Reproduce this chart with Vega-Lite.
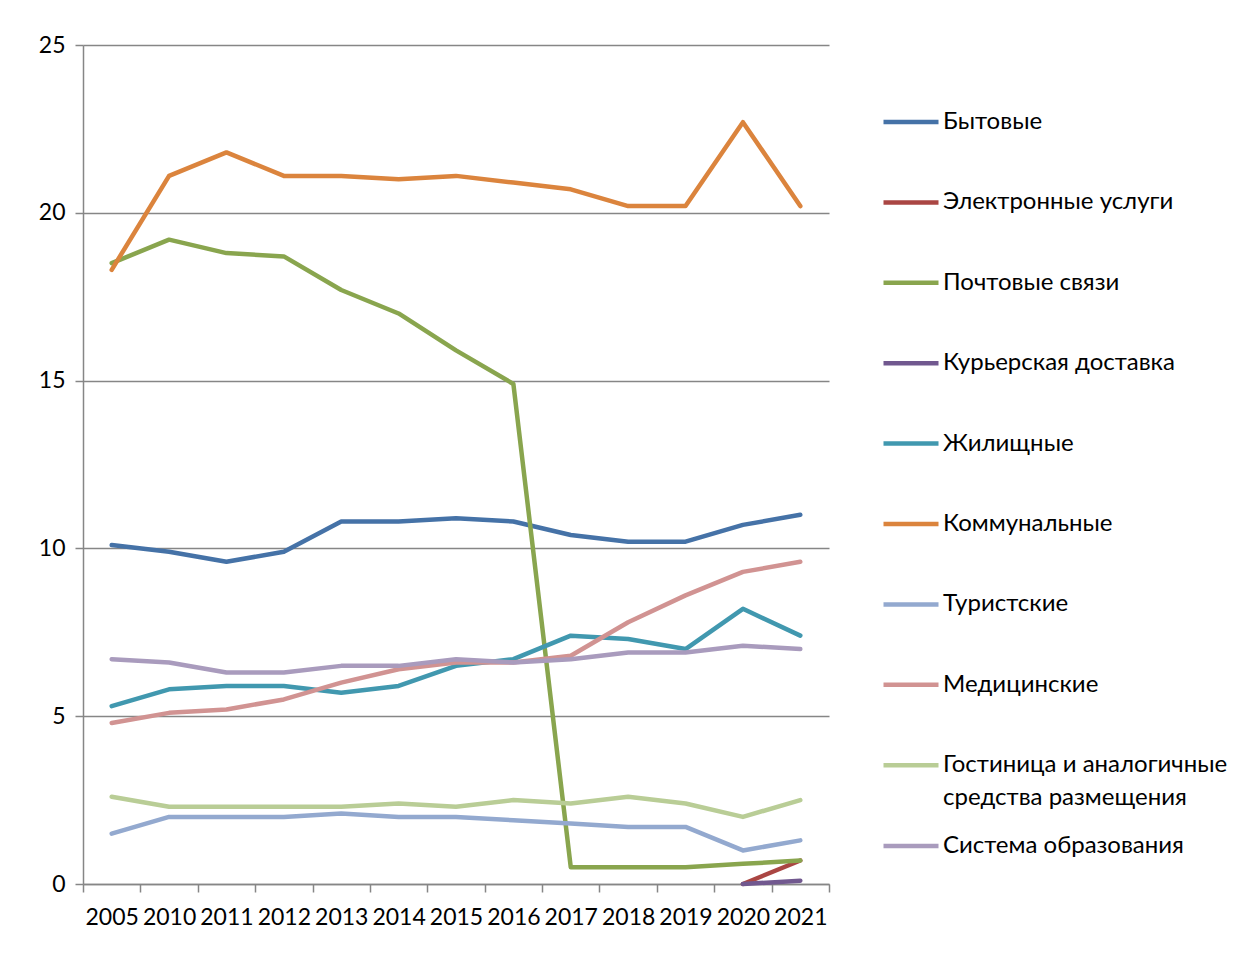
{
  "$schema": "https://vega.github.io/schema/vega-lite/v6.json",
  "autosize": {"type": "none"},
  "padding": {"left": 83, "top": 45, "right": 420, "bottom": 96},
  "width": 746,
  "height": 839,
  "background": "white",
  "config": {
    "view": {"stroke": null},
    "font": "Lato",
    "style": {"guide-label": {"lineHeight": 33}}
  },
  "data": {
    "values": [
      {"year": "2005", "series": "Бытовые", "value": 10.1},
      {"year": "2010", "series": "Бытовые", "value": 9.9},
      {"year": "2011", "series": "Бытовые", "value": 9.6},
      {"year": "2012", "series": "Бытовые", "value": 9.9},
      {"year": "2013", "series": "Бытовые", "value": 10.8},
      {"year": "2014", "series": "Бытовые", "value": 10.8},
      {"year": "2015", "series": "Бытовые", "value": 10.9},
      {"year": "2016", "series": "Бытовые", "value": 10.8},
      {"year": "2017", "series": "Бытовые", "value": 10.4},
      {"year": "2018", "series": "Бытовые", "value": 10.2},
      {"year": "2019", "series": "Бытовые", "value": 10.2},
      {"year": "2020", "series": "Бытовые", "value": 10.7},
      {"year": "2021", "series": "Бытовые", "value": 11.0},

      {"year": "2020", "series": "Электронные услуги", "value": 0.0},
      {"year": "2021", "series": "Электронные услуги", "value": 0.7},

      {"year": "2005", "series": "Почтовые связи", "value": 18.5},
      {"year": "2010", "series": "Почтовые связи", "value": 19.2},
      {"year": "2011", "series": "Почтовые связи", "value": 18.8},
      {"year": "2012", "series": "Почтовые связи", "value": 18.7},
      {"year": "2013", "series": "Почтовые связи", "value": 17.7},
      {"year": "2014", "series": "Почтовые связи", "value": 17.0},
      {"year": "2015", "series": "Почтовые связи", "value": 15.9},
      {"year": "2016", "series": "Почтовые связи", "value": 14.9},
      {"year": "2017", "series": "Почтовые связи", "value": 0.5},
      {"year": "2018", "series": "Почтовые связи", "value": 0.5},
      {"year": "2019", "series": "Почтовые связи", "value": 0.5},
      {"year": "2020", "series": "Почтовые связи", "value": 0.6},
      {"year": "2021", "series": "Почтовые связи", "value": 0.7},

      {"year": "2020", "series": "Курьерская доставка", "value": 0.0},
      {"year": "2021", "series": "Курьерская доставка", "value": 0.1},

      {"year": "2005", "series": "Жилищные", "value": 5.3},
      {"year": "2010", "series": "Жилищные", "value": 5.8},
      {"year": "2011", "series": "Жилищные", "value": 5.9},
      {"year": "2012", "series": "Жилищные", "value": 5.9},
      {"year": "2013", "series": "Жилищные", "value": 5.7},
      {"year": "2014", "series": "Жилищные", "value": 5.9},
      {"year": "2015", "series": "Жилищные", "value": 6.5},
      {"year": "2016", "series": "Жилищные", "value": 6.7},
      {"year": "2017", "series": "Жилищные", "value": 7.4},
      {"year": "2018", "series": "Жилищные", "value": 7.3},
      {"year": "2019", "series": "Жилищные", "value": 7.0},
      {"year": "2020", "series": "Жилищные", "value": 8.2},
      {"year": "2021", "series": "Жилищные", "value": 7.4},

      {"year": "2005", "series": "Коммунальные", "value": 18.3},
      {"year": "2010", "series": "Коммунальные", "value": 21.1},
      {"year": "2011", "series": "Коммунальные", "value": 21.8},
      {"year": "2012", "series": "Коммунальные", "value": 21.1},
      {"year": "2013", "series": "Коммунальные", "value": 21.1},
      {"year": "2014", "series": "Коммунальные", "value": 21.0},
      {"year": "2015", "series": "Коммунальные", "value": 21.1},
      {"year": "2016", "series": "Коммунальные", "value": 20.9},
      {"year": "2017", "series": "Коммунальные", "value": 20.7},
      {"year": "2018", "series": "Коммунальные", "value": 20.2},
      {"year": "2019", "series": "Коммунальные", "value": 20.2},
      {"year": "2020", "series": "Коммунальные", "value": 22.7},
      {"year": "2021", "series": "Коммунальные", "value": 20.2},

      {"year": "2005", "series": "Туристские", "value": 1.5},
      {"year": "2010", "series": "Туристские", "value": 2.0},
      {"year": "2011", "series": "Туристские", "value": 2.0},
      {"year": "2012", "series": "Туристские", "value": 2.0},
      {"year": "2013", "series": "Туристские", "value": 2.1},
      {"year": "2014", "series": "Туристские", "value": 2.0},
      {"year": "2015", "series": "Туристские", "value": 2.0},
      {"year": "2016", "series": "Туристские", "value": 1.9},
      {"year": "2017", "series": "Туристские", "value": 1.8},
      {"year": "2018", "series": "Туристские", "value": 1.7},
      {"year": "2019", "series": "Туристские", "value": 1.7},
      {"year": "2020", "series": "Туристские", "value": 1.0},
      {"year": "2021", "series": "Туристские", "value": 1.3},

      {"year": "2005", "series": "Медицинские", "value": 4.8},
      {"year": "2010", "series": "Медицинские", "value": 5.1},
      {"year": "2011", "series": "Медицинские", "value": 5.2},
      {"year": "2012", "series": "Медицинские", "value": 5.5},
      {"year": "2013", "series": "Медицинские", "value": 6.0},
      {"year": "2014", "series": "Медицинские", "value": 6.4},
      {"year": "2015", "series": "Медицинские", "value": 6.6},
      {"year": "2016", "series": "Медицинские", "value": 6.6},
      {"year": "2017", "series": "Медицинские", "value": 6.8},
      {"year": "2018", "series": "Медицинские", "value": 7.8},
      {"year": "2019", "series": "Медицинские", "value": 8.6},
      {"year": "2020", "series": "Медицинские", "value": 9.3},
      {"year": "2021", "series": "Медицинские", "value": 9.6},

      {"year": "2005", "series": "Гостиница и аналогичные средства размещения", "value": 2.6},
      {"year": "2010", "series": "Гостиница и аналогичные средства размещения", "value": 2.3},
      {"year": "2011", "series": "Гостиница и аналогичные средства размещения", "value": 2.3},
      {"year": "2012", "series": "Гостиница и аналогичные средства размещения", "value": 2.3},
      {"year": "2013", "series": "Гостиница и аналогичные средства размещения", "value": 2.3},
      {"year": "2014", "series": "Гостиница и аналогичные средства размещения", "value": 2.4},
      {"year": "2015", "series": "Гостиница и аналогичные средства размещения", "value": 2.3},
      {"year": "2016", "series": "Гостиница и аналогичные средства размещения", "value": 2.5},
      {"year": "2017", "series": "Гостиница и аналогичные средства размещения", "value": 2.4},
      {"year": "2018", "series": "Гостиница и аналогичные средства размещения", "value": 2.6},
      {"year": "2019", "series": "Гостиница и аналогичные средства размещения", "value": 2.4},
      {"year": "2020", "series": "Гостиница и аналогичные средства размещения", "value": 2.0},
      {"year": "2021", "series": "Гостиница и аналогичные средства размещения", "value": 2.5},

      {"year": "2005", "series": "Система образования", "value": 6.7},
      {"year": "2010", "series": "Система образования", "value": 6.6},
      {"year": "2011", "series": "Система образования", "value": 6.3},
      {"year": "2012", "series": "Система образования", "value": 6.3},
      {"year": "2013", "series": "Система образования", "value": 6.5},
      {"year": "2014", "series": "Система образования", "value": 6.5},
      {"year": "2015", "series": "Система образования", "value": 6.7},
      {"year": "2016", "series": "Система образования", "value": 6.6},
      {"year": "2017", "series": "Система образования", "value": 6.7},
      {"year": "2018", "series": "Система образования", "value": 6.9},
      {"year": "2019", "series": "Система образования", "value": 6.9},
      {"year": "2020", "series": "Система образования", "value": 7.1},
      {"year": "2021", "series": "Система образования", "value": 7.0}
    ]
  },
  "encoding": {
    "x": {
      "field": "year",
      "type": "ordinal",
      "bandPosition": 0.5,
      "scale": {"type": "band", "paddingInner": 0, "paddingOuter": 0},
      "axis": {
        "title": null,
        "labelAngle": 0,
        "labelFontSize": 23,
        "labelColor": "black",
        "labelPadding": 14,
        "tickBand": "extent",
        "tickSize": 8,
        "tickWidth": 1.5,
        "tickColor": "#868686",
        "domainColor": "#868686",
        "domainWidth": 1.5,
        "grid": false
      }
    },
    "y": {
      "field": "value",
      "type": "quantitative",
      "scale": {"domain": [0, 25], "nice": false},
      "axis": {
        "title": null,
        "values": [0, 5, 10, 15, 20, 25],
        "labelFontSize": 23,
        "labelColor": "black",
        "labelPadding": 10,
        "tickSize": 8,
        "tickWidth": 1.5,
        "tickColor": "#868686",
        "domainColor": "#868686",
        "domainWidth": 1.5,
        "grid": true,
        "gridColor": "#868686",
        "gridWidth": 1.5
      }
    }
  },
  "layer": [
    {
      "transform": [{"filter": "datum.series != 'Система образования'"}],
      "mark": {"type": "line", "strokeWidth": 4.5, "strokeCap": "round", "strokeJoin": "round"},
      "encoding": {
        "color": {
          "field": "series",
          "type": "nominal",
          "scale": {
            "domain": ["Бытовые", "Электронные услуги", "Почтовые связи", "Курьерская доставка", "Жилищные", "Коммунальные", "Туристские", "Медицинские", "Гостиница и аналогичные средства размещения"],
            "range": ["#4572A7", "#AA4643", "#89A54E", "#71588F", "#4198AF", "#DB843D", "#93A9CF", "#D19392", "#B9CD96"]
          },
          "legend": {
            "title": null,
            "orient": "none",
            "legendX": 798,
            "legendY": 47,
            "symbolType": "stroke",
            "symbolSize": 3025,
            "symbolStrokeWidth": 4.5,
            "labelFontSize": 24,
            "labelColor": "black",
            "labelOffset": 2,
            "labelLimit": 400,
            "rowPadding": 38.4,
            "labelExpr": "datum.label == 'Гостиница и аналогичные средства размещения' ? ['Гостиница и аналогичные', 'средства размещения'] : datum.label"
          }
        }
      }
    },
    {
      "transform": [{"filter": "datum.series == 'Система образования'"}],
      "mark": {"type": "line", "strokeWidth": 4.5, "strokeCap": "round", "strokeJoin": "round"},
      "encoding": {
        "color": {
          "field": "series",
          "type": "nominal",
          "scale": {"domain": ["Система образования"], "range": ["#A99BBD"]},
          "legend": {
            "title": null,
            "orient": "none",
            "legendX": 798,
            "legendY": 771,
            "symbolType": "stroke",
            "symbolSize": 3025,
            "symbolStrokeWidth": 4.5,
            "labelFontSize": 24,
            "labelColor": "black",
            "labelOffset": 2,
            "labelLimit": 400
          }
        }
      }
    }
  ],
  "resolve": {"scale": {"color": "independent"}, "legend": {"color": "independent"}}
}
